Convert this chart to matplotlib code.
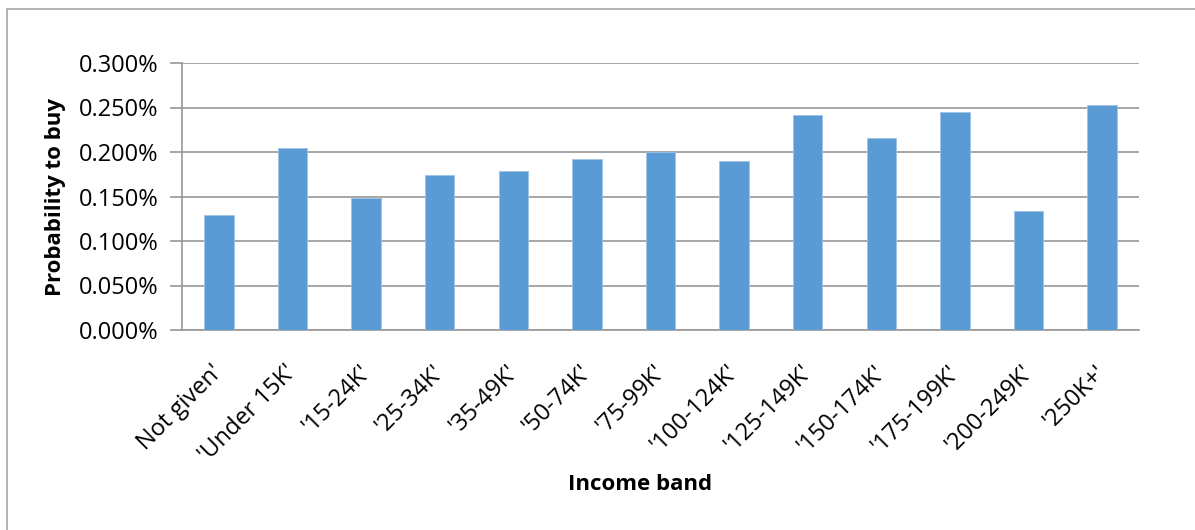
import numpy as np
from matplotlib import pyplot as plt
from matplotlib.patches import Rectangle
from matplotlib.ticker import FuncFormatter
from matplotlib.transforms import ScaledTranslation

plt.rcParams['font.family'] = ['Open Sans', 'DejaVu Sans']

bands = ["Not given'", "'Under 15K'", "'15-24K'", "'25-34K'", "'35-49K'", "'50-74K'",
         "'75-99K'", "'100-124K'", "'125-149K'", "'150-174K'", "'175-199K'",
         "'200-249K'", "'250K+'"]
prob = [0.129, 0.205, 0.148, 0.174, 0.179, 0.192, 0.200, 0.190, 0.242,
        0.216, 0.245, 0.134, 0.253]  # percent
yticks = [0.0, 0.05, 0.10, 0.15, 0.20, 0.25, 0.30]

W, H = 1195, 530
fig = plt.figure(figsize=(W / 100, H / 100), dpi=100)
ax = fig.add_axes([182 / W, 1 - 330 / H, (1139 - 182) / W, (330 - 63) / H])

# chart border (only left and top are visible in the crop)
fig.add_artist(Rectangle((7 / W, -0.1), 1.2, 1.1 - 9 / H, transform=fig.transFigure,
                         fill=False, edgecolor='#a6a6a6', linewidth=1.2))

x = np.arange(len(bands))
ax.bar(x, prob, width=0.4, color='#5b9bd5', edgecolor='#9dc3e6', linewidth=0.6, zorder=3)

ax.set_xlim(-0.5, len(bands) - 0.5)
ax.set_ylim(0, 0.30)
ax.set_yticks(yticks)
ax.yaxis.set_major_formatter(FuncFormatter(lambda v, p: f'{v:.3f}%'))
ax.grid(axis='y', color='#979797', linewidth=1.2, zorder=0)

for s in ['top', 'right']:
    ax.spines[s].set_visible(False)
ax.spines['left'].set_color('#979797')
ax.spines['bottom'].set_color('#979797')
ax.spines['left'].set_linewidth(1.2)
ax.spines['bottom'].set_linewidth(1.2)

ax.tick_params(axis='y', length=9, color='#979797', width=1.2, labelsize=17, pad=8)
ax.tick_params(axis='x', length=0, labelsize=17, pad=22)
ax.set_xticks(x)
ax.set_xticklabels(bands, rotation=45, ha='right', rotation_mode='anchor')
shift = ScaledTranslation(-8 / 100, 0, fig.dpi_scale_trans)
for lab in ax.get_xticklabels():
    lab.set_transform(lab.get_transform() + shift)

fig.text(55 / W, 1 - 197 / H, 'Probability to buy', rotation=90, ha='center', va='center',
         fontsize=16, fontweight='bold')
fig.text(640 / W, 1 - 485 / H, 'Income band', ha='center', va='center',
         fontsize=16, fontweight='bold')

fig.savefig('out.png', dpi=100)
